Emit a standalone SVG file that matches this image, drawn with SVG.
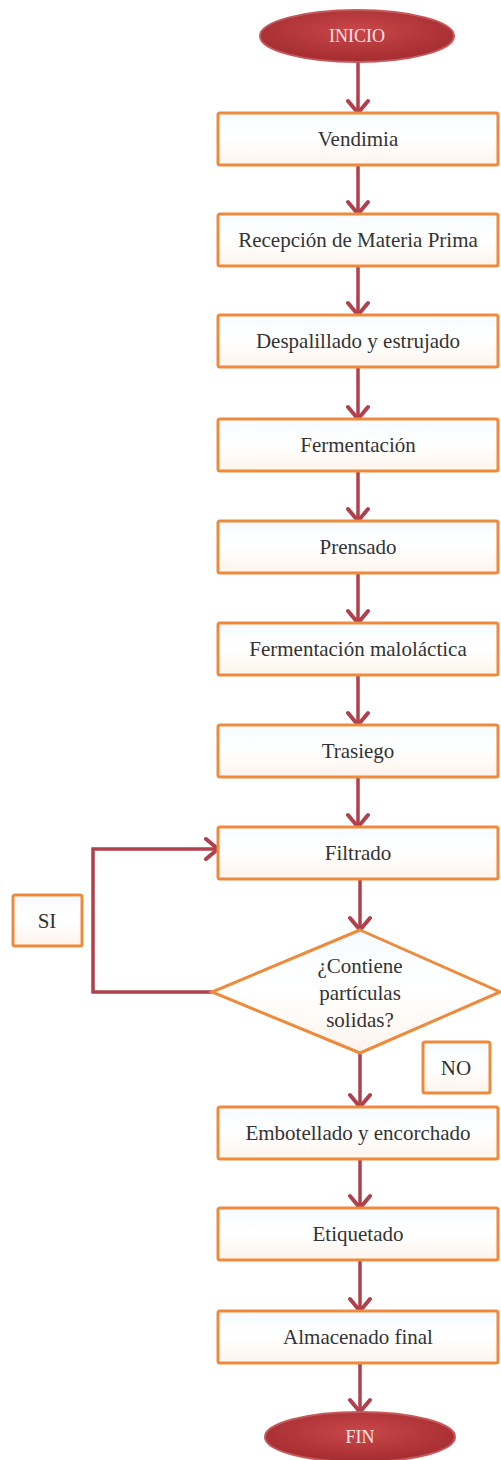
<svg xmlns="http://www.w3.org/2000/svg" width="501" height="1460" viewBox="0 0 501 1460">
  <defs>
    <linearGradient id="boxFill" x1="0" y1="0" x2="0" y2="1">
      <stop offset="0" stop-color="#f7fbff"/>
      <stop offset="0.5" stop-color="#ffffff"/>
      <stop offset="1" stop-color="#fdf4ec"/>
    </linearGradient>
    <radialGradient id="termFill" cx="0.5" cy="0.4" r="0.6">
      <stop offset="0" stop-color="#c9474a"/>
      <stop offset="1" stop-color="#a42c30"/>
    </radialGradient>
    <marker id="chev" viewBox="0 0 20 24" refX="17" refY="12" markerWidth="20" markerHeight="24" markerUnits="userSpaceOnUse" orient="auto">
      <path d="M5,2 L17,12 L5,22" fill="none" stroke="#b0404c" stroke-width="4" stroke-linecap="round" stroke-linejoin="round"/>
    </marker>
  </defs>
  <style>
    .box { fill: url(#boxFill); stroke: #ee8a3c; stroke-width: 3; }
    .term { fill: url(#termFill); stroke: #c4585a; stroke-width: 2; }
    .lbl { font-family: "Liberation Serif", "Times New Roman", serif; font-size: 21px; fill: #333333; text-anchor: middle; }
    .tlbl { font-family: "Liberation Serif", "Times New Roman", serif; font-size: 18px; fill: #fbe3e3; text-anchor: middle; }
    .conn { fill: none; stroke: #b0404c; stroke-width: 3.5; marker-end: url(#chev); }
  </style>

  <rect width="501" height="1460" fill="#ffffff"/>

  <!-- connectors -->
  <g id="connectors">
    <line class="conn" x1="358" y1="62" x2="358" y2="113"/>
    <line class="conn" x1="358" y1="165" x2="358" y2="214"/>
    <line class="conn" x1="358" y1="266" x2="358" y2="315"/>
    <line class="conn" x1="358" y1="367" x2="358" y2="419"/>
    <line class="conn" x1="358" y1="471" x2="358" y2="521"/>
    <line class="conn" x1="358" y1="573" x2="358" y2="623"/>
    <line class="conn" x1="358" y1="675" x2="358" y2="725"/>
    <line class="conn" x1="358" y1="777" x2="358" y2="827"/>
    <line class="conn" x1="360" y1="879" x2="360" y2="930"/>
    <line class="conn" x1="360" y1="1053" x2="360" y2="1107"/>
    <line class="conn" x1="360" y1="1159" x2="360" y2="1208"/>
    <line class="conn" x1="360" y1="1260" x2="360" y2="1311"/>
    <line class="conn" x1="360" y1="1363" x2="360" y2="1412"/>
    <polyline class="conn" points="212,992 93,992 93,849 218,849"/>
  </g>

  <g id="inicio">
    <ellipse class="term" cx="357" cy="36" rx="97" ry="26"/>
    <text class="tlbl" x="357" y="42">INICIO</text>
  </g>
  <g id="vendimia">
    <rect class="box" x="218" y="113" width="280" height="52" rx="2"/>
    <text class="lbl" x="358" y="146">Vendimia</text>
  </g>
  <g id="recepcion">
    <rect class="box" x="218" y="214" width="280" height="52" rx="2"/>
    <text class="lbl" x="358" y="247">Recepción de Materia  Prima</text>
  </g>
  <g id="despalillado">
    <rect class="box" x="218" y="315" width="280" height="52" rx="2"/>
    <text class="lbl" x="358" y="348">Despalillado  y estrujado</text>
  </g>
  <g id="fermentacion">
    <rect class="box" x="218" y="419" width="280" height="52" rx="2"/>
    <text class="lbl" x="358" y="452">Fermentación</text>
  </g>
  <g id="prensado">
    <rect class="box" x="218" y="521" width="280" height="52" rx="2"/>
    <text class="lbl" x="358" y="554">Prensado</text>
  </g>
  <g id="malolactica">
    <rect class="box" x="218" y="623" width="280" height="52" rx="2"/>
    <text class="lbl" x="358" y="656">Fermentación  maloláctica</text>
  </g>
  <g id="trasiego">
    <rect class="box" x="218" y="725" width="280" height="52" rx="2"/>
    <text class="lbl" x="358" y="758">Trasiego</text>
  </g>
  <g id="filtrado">
    <rect class="box" x="218" y="827" width="280" height="52" rx="2"/>
    <text class="lbl" x="358" y="860">Filtrado</text>
  </g>
  <g id="decision">
    <polygon class="box" points="360,930 500,992 360,1053 212,992"/>
    <text class="lbl" x="360" y="973">¿Contiene</text>
    <text class="lbl" x="360" y="1000">partículas</text>
    <text class="lbl" x="360" y="1027">solidas?</text>
  </g>
  <g id="si">
    <rect class="box" x="13" y="895" width="69" height="51" rx="2"/>
    <text class="lbl" x="47" y="928">SI</text>
  </g>
  <g id="no">
    <rect class="box" x="423" y="1042" width="67" height="51" rx="2"/>
    <text class="lbl" x="456" y="1075">NO</text>
  </g>
  <g id="embotellado">
    <rect class="box" x="218" y="1107" width="280" height="52" rx="2"/>
    <text class="lbl" x="358" y="1140">Embotellado  y encorchado</text>
  </g>
  <g id="etiquetado">
    <rect class="box" x="218" y="1208" width="280" height="52" rx="2"/>
    <text class="lbl" x="358" y="1241">Etiquetado</text>
  </g>
  <g id="almacenado">
    <rect class="box" x="218" y="1311" width="280" height="52" rx="2"/>
    <text class="lbl" x="358" y="1344">Almacenado  final</text>
  </g>
  <g id="fin">
    <ellipse class="term" cx="360" cy="1437" rx="95" ry="25"/>
    <text class="tlbl" x="360" y="1443">FIN</text>
  </g>
</svg>
